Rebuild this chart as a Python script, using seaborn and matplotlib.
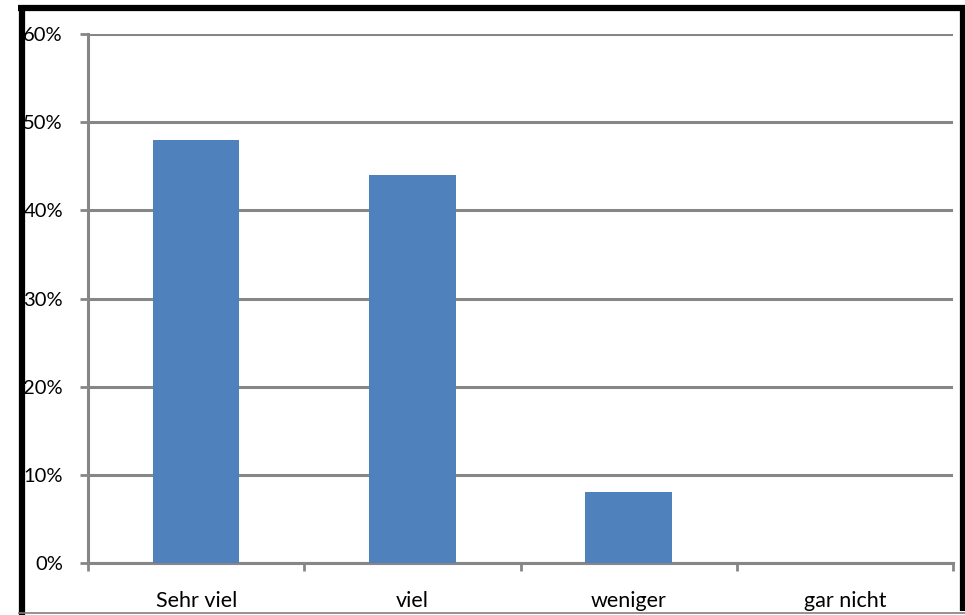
import matplotlib
matplotlib.use("Agg")
import matplotlib.pyplot as plt
from matplotlib.lines import Line2D
from matplotlib.ticker import FixedLocator, FuncFormatter
import seaborn as sns
import pandas as pd

categories = ["Sehr viel", "viel", "weniger", "gar nicht"]
shares = [48, 44, 8, 0]
y_ticks = [0, 10, 20, 30, 40, 50, 60]

df = pd.DataFrame({"Kategorie": categories, "Anteil": shares})

sns.set_theme(style="white")
plt.rcParams["font.family"] = ["Lato", "DejaVu Sans"]

W, H = 965, 615
fig = plt.figure(figsize=(W / 100, H / 100), dpi=100)
ax = fig.add_axes([88 / W, 1 - 563 / H, (953 - 88) / W, (563 - 34) / H])

grid_col = "#868686"
sns.barplot(data=df, x="Kategorie", y="Anteil", color="#4F81BD",
            saturation=1, width=0.4, linewidth=0, ax=ax, zorder=3)

ax.set_ylim(0, 60)
ax.set_xlim(-0.5, len(categories) - 0.5)
ax.set_yticks(y_ticks)
ax.yaxis.set_major_formatter(FuncFormatter(lambda v, _: f"{v:.0f}%"))
for v in y_ticks:
    ax.axhline(v, color=grid_col, lw=2.2, zorder=1)

ax.set_xlabel("")
ax.set_ylabel("")
ax.xaxis.set_minor_locator(FixedLocator([i - 0.5 for i in range(len(categories) + 1)]))
ax.tick_params(axis="x", which="major", length=0, pad=20, labelsize=15.5, colors="black")
ax.tick_params(axis="x", which="minor", length=6, width=2, color=grid_col, direction="out", bottom=True)
ax.tick_params(axis="y", which="major", length=6, width=2, color=grid_col, direction="out",
               left=True, pad=12, labelsize=14.5, labelcolor="black")

for s in ["top", "right"]:
    ax.spines[s].set_visible(False)
for s in ["left", "bottom"]:
    ax.spines[s].set_color(grid_col)
    ax.spines[s].set_linewidth(2.2)

# frame around the figure
def px_line(x0, y0, x1, y1, color, lw):
    fig.add_artist(Line2D([x0 / W, x1 / W], [1 - y0 / H, 1 - y1 / H],
                          color=color, lw=lw, transform=fig.transFigure,
                          solid_capstyle="butt"))

px_line(18, 8, W, 8, "black", 4.5)
px_line(21.5, 5, 21.5, H, "black", 4.5)
px_line(962.5, 5, 962.5, 611, "black", 4.5)
px_line(18, 613, W, 613, "#808080", 1.2)

fig.savefig("out.png", dpi=100)
